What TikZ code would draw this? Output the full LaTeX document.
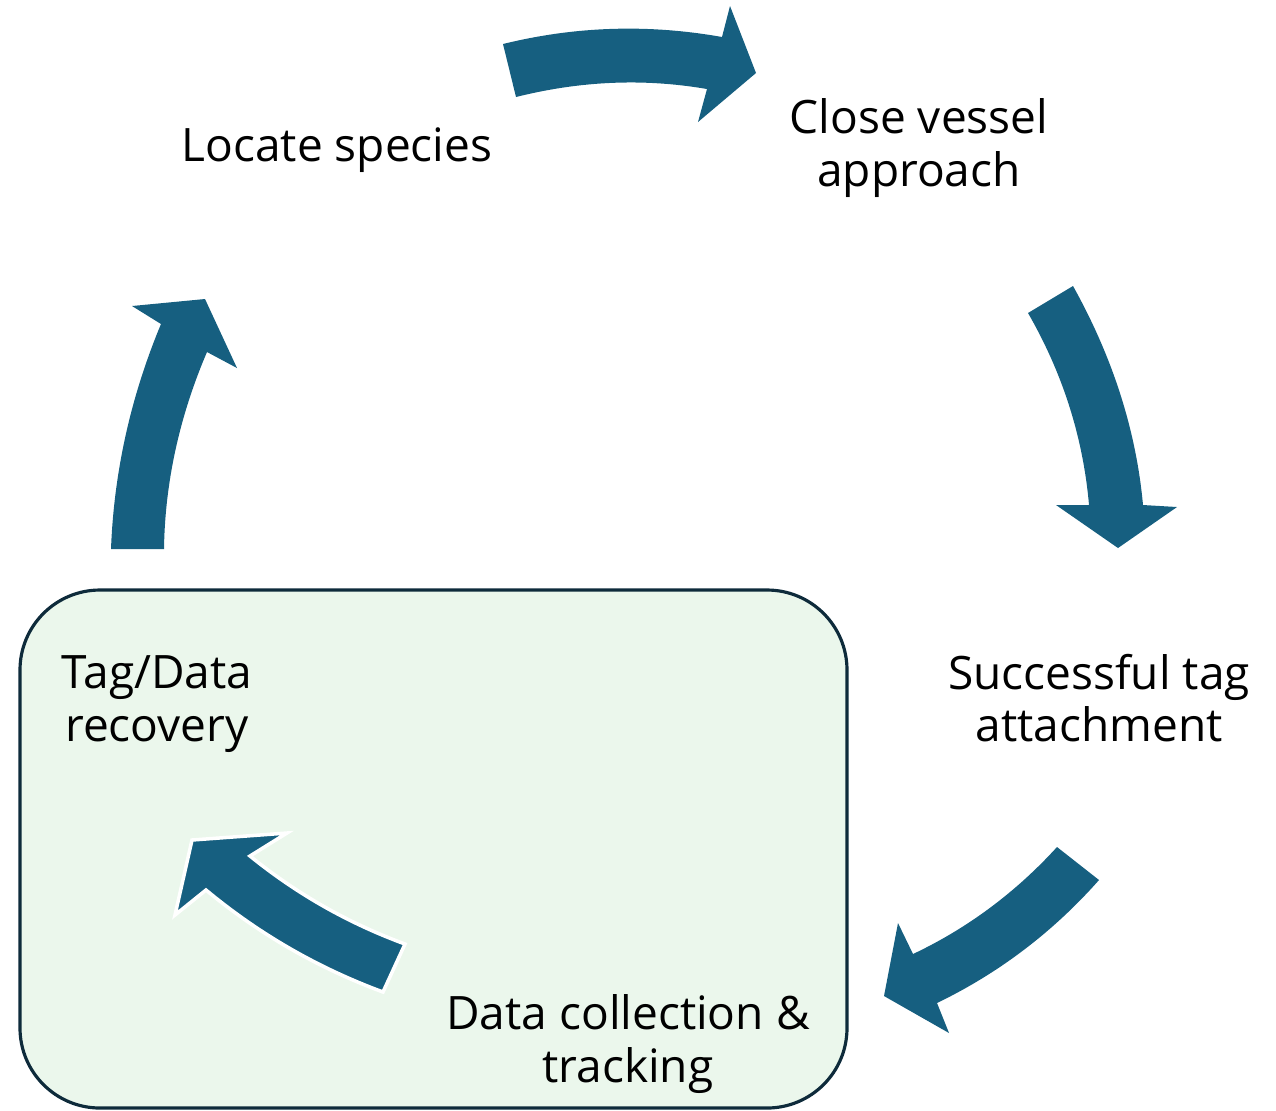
\documentclass[tikz,border=0pt]{standalone}
\usepackage{fontspec}
\setmainfont{Open Sans}
\definecolor{arrowblue}{HTML}{165F80}
\definecolor{boxgreen}{HTML}{EBF7EC}
\definecolor{boxline}{HTML}{0E2B3B}
\tikzset{
  step label/.style={inner sep=0pt, align=center, font=\fontsize{13.1}{15}\selectfont},
  block arrow/.style={fill=arrowblue},
}
\begin{document}
\begin{tikzpicture}
  \useasboundingbox (0,0) rectangle (12.76,-11.10);
  \draw [boxline, fill=boxgreen, line width=0.9pt, rounded corners=0.8cm] (0.20,-5.90) rectangle (8.47,-11.08);

  \fill [block arrow] (5.03,-0.44) .. controls (5.76,-0.26) and (6.49,-0.24) .. (7.22,-0.37) -- (7.30,-0.06) -- (7.56,-0.73) -- (6.98,-1.22) -- (7.07,-0.89) .. controls (6.43,-0.78) and (5.80,-0.81) .. (5.16,-0.97) -- cycle;
  \fill [block arrow] (10.73,-2.86) .. controls (11.12,-3.56) and (11.36,-4.29) .. (11.43,-5.05) -- (11.77,-5.07) -- (11.18,-5.48) -- (10.56,-5.05) -- (10.89,-5.05) .. controls (10.83,-4.36) and (10.62,-3.72) .. (10.28,-3.13) -- cycle;
  \fill [block arrow] (10.99,-8.80) .. controls (10.53,-9.32) and (9.99,-9.73) .. (9.37,-10.03) -- (9.49,-10.33) -- (8.84,-9.96) -- (8.98,-9.23) -- (9.13,-9.54) .. controls (9.68,-9.28) and (10.16,-8.92) .. (10.57,-8.47) -- cycle;
  \filldraw [block arrow, draw=white, line width=1pt] (4.05,-9.44) .. controls (3.48,-9.23) and (2.97,-8.94) .. (2.50,-8.56) -- (2.87,-8.33) -- (1.92,-8.40) -- (1.75,-9.15) -- (2.06,-8.90) .. controls (2.59,-9.34) and (3.18,-9.68) .. (3.83,-9.92) -- cycle;
  \fill [block arrow] (1.64,-5.49) .. controls (1.65,-4.81) and (1.80,-4.15) .. (2.07,-3.52) -- (2.37,-3.68) -- (2.05,-2.99) -- (1.32,-3.06) -- (1.61,-3.24) .. controls (1.31,-3.96) and (1.14,-4.71) .. (1.11,-5.49) -- cycle;

  \node [step label] at (3.37,-1.50) (locate) {Locate species};
  \node [step label] at (9.19,-1.48) (approach) {Close vessel\\approach};
  \node [step label] at (10.99,-6.98) (attach) {Successful tag\\attachment};
  \node [step label] at (6.28,-10.44) (collect) {Data collection \&\\tracking};
  \node [step label] at (1.57,-7.04) (recover) {Tag/Data\\recovery};
\end{tikzpicture}
\end{document}
